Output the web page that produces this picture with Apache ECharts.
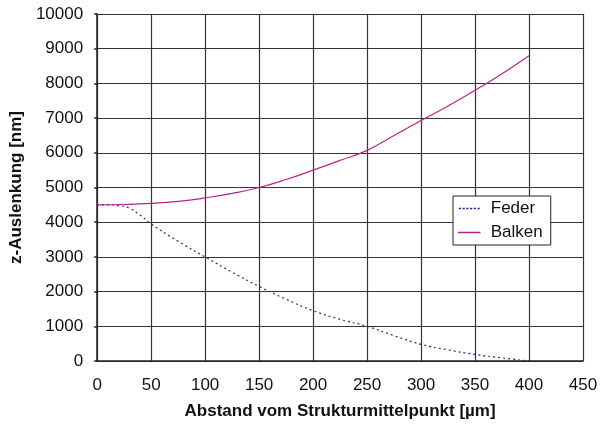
<!DOCTYPE html>
<html><head><meta charset="utf-8">
<script src="https://cdn.jsdelivr.net/npm/echarts@6/dist/echarts.min.js"></script>
<style>html,body{margin:0;padding:0;background:#fff}#c{width:610px;height:430px}</style>
</head><body><div id="c"></div>
<script>
const federX = [0,10,20,30,40,50,75,100,125,150,175,200,225,250,275,300,325,350,375,400];
const federY = [4500,4500,4480,4400,4200,3950,3450,3000,2560,2150,1780,1450,1200,1000,730,480,320,190,90,0];
const balkenX = [0,25,50,75,100,125,150,175,200,225,250,275,300,325,350,375,400];
const balkenY = [4500,4510,4540,4600,4700,4830,5000,5230,5500,5780,6070,6500,6930,7350,7800,8280,8800];
const xTicks = [0,50,100,150,200,250,300,350,400,450];
const yTicks = [0,1000,2000,3000,4000,5000,6000,7000,8000,9000,10000];

const font = 'Liberation Sans, Arial, sans-serif';
let dots = '';
for (let i = 0; i < 30; i += 5) dots += 'M' + i + ',0h3v2h-3z';
const dotIcon = 'path://' + dots;
const lineIcon = 'path://M0,0h30v2h-30z';
const chart = echarts.init(document.getElementById('c'));
chart.setOption({
  animation:false,
  grid:{left:97,top:14,width:486,height:347,containLabel:false},
  xAxis:{type:'value',min:xTicks[0],max:xTicks[xTicks.length-1],interval:50,
    name:'Abstand vom Strukturmittelpunkt [µm]',nameLocation:'middle',nameGap:42,
    nameTextStyle:{fontFamily:font,fontWeight:'bold',fontSize:17,color:'#111'},
    axisLine:{show:true,lineStyle:{color:'#222',width:1.5}},
    axisTick:{show:false},
    axisLabel:{fontFamily:font,fontSize:17,color:'#111',margin:16,formatter:v=>String(v)},
    splitLine:{show:true,lineStyle:{color:'#333',width:1.2}}},
  yAxis:{type:'value',min:yTicks[0],max:yTicks[yTicks.length-1],interval:1000,
    name:'z-Auslenkung [nm]',nameLocation:'middle',nameGap:63,
    nameTextStyle:{fontFamily:font,fontWeight:'bold',fontSize:17,color:'#111'},
    axisLine:{show:true,lineStyle:{color:'#222',width:1.5}},
    axisTick:{show:true,inside:false,length:3,lineStyle:{color:'#222',width:1.5}},
    axisLabel:{fontFamily:font,fontSize:17,color:'#111',margin:14,formatter:v=>String(v)},
    splitLine:{show:true,lineStyle:{color:'#333',width:1.2}}},
  legend:{orient:'vertical',left:453,top:196,itemWidth:29,itemHeight:1.5,itemGap:7,
    padding:[4,8,4,5],borderColor:'#222',borderWidth:1,backgroundColor:'#fff',
    textStyle:{fontFamily:font,fontSize:17,color:'#111',padding:[0,0,0,2]},
    data:[{name:'Feder',icon:dotIcon},{name:'Balken',icon:lineIcon}]},
  series:[
    {name:'Feder',type:'line',smooth:true,showSymbol:false,symbol:'none',
     data:federX.map((x,i)=>[x,federY[i]]),
     lineStyle:{color:'#2a2a8c',width:1.2,type:[2,3]},itemStyle:{color:'#2a2a8c'}},
    {name:'Balken',type:'line',smooth:true,showSymbol:false,symbol:'none',
     data:balkenX.map((x,i)=>[x,balkenY[i]]),
     lineStyle:{color:'#b8248f',width:1.2},itemStyle:{color:'#b8248f'}}
  ]
});
</script></body></html>
